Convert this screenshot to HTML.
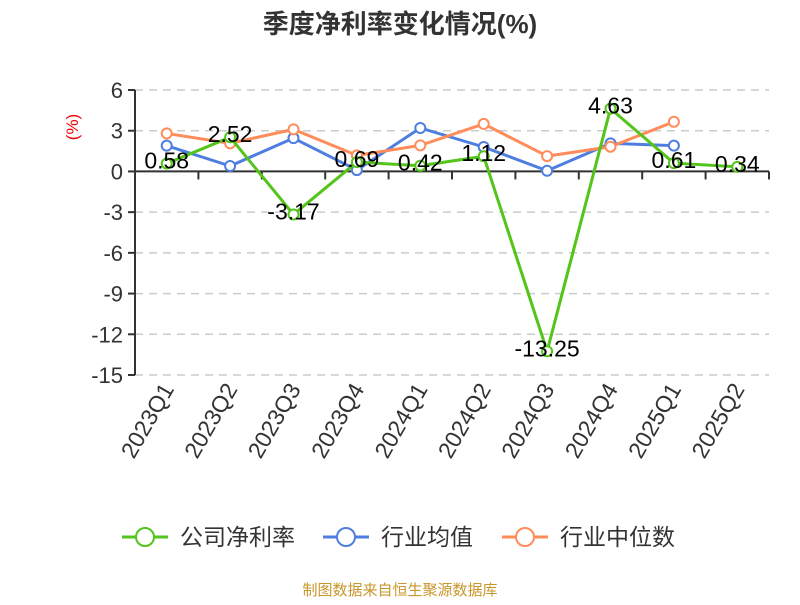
<!DOCTYPE html>
<html><head><meta charset="utf-8"><style>
body{margin:0;background:#fff;font-family:"Liberation Sans","Noto Sans CJK SC",sans-serif}
</style></head><body>
<svg id="chart" width="800" height="600" xmlns="http://www.w3.org/2000/svg" font-family="Liberation Sans, Noto Sans CJK SC, sans-serif">
<text x="400" y="33" text-anchor="middle" font-size="26" font-weight="bold" fill="#333">季度净利率变化情况(%)</text>
<text transform="translate(78,127) rotate(-90)" text-anchor="middle" font-size="17" fill="#e00">(%)</text>
<g id="grid"></g><g id="axes"></g><g id="series"></g>
<g>
<g><line x1="122" y1="537" x2="168" y2="537" stroke="#52c41a" stroke-width="3"/><circle cx="145" cy="537" r="9" fill="#fff" stroke="#52c41a" stroke-width="2"/><text x="180" y="545" font-size="23" fill="#333">公司净利率</text></g>
<g><line x1="323" y1="537" x2="369" y2="537" stroke="#4e7fe0" stroke-width="3"/><circle cx="346" cy="537" r="9" fill="#fff" stroke="#4e7fe0" stroke-width="2"/><text x="381" y="545" font-size="23" fill="#333">行业均值</text></g>
<g><line x1="502" y1="537" x2="548" y2="537" stroke="#ff8c5a" stroke-width="3"/><circle cx="525" cy="537" r="9" fill="#fff" stroke="#ff8c5a" stroke-width="2"/><text x="560" y="545" font-size="23" fill="#333">行业中位数</text></g>
</g>
<text x="400" y="595" text-anchor="middle" font-size="15" fill="#c8962a">制图数据来自恒生聚源数据库</text>
</svg>
<script>
const categories=["2023Q1","2023Q2","2023Q3","2023Q4","2024Q1","2024Q2","2024Q3","2024Q4","2025Q1","2025Q2"];
const companyValues=[0.58,2.52,-3.17,0.69,0.42,1.12,-13.25,4.63,0.61,0.34];
const industryAvg=[1.9,0.4,2.45,0.1,3.2,1.8,0.05,2.07,1.9];
const industryMedian=[2.8,2.07,3.1,1.18,1.92,3.5,1.13,1.82,3.66];
const yTicks=[6,3,0,-3,-6,-9,-12,-15];
const NS="http://www.w3.org/2000/svg";
const x0=135,x1=769,yTop=90,yBot=375,yMax=6,yMin=-15;
const band=(x1-x0)/categories.length;
const xs=i=>x0+band*(i+0.5);
const ys=v=>yTop+(yMax-v)/(yMax-yMin)*(yBot-yTop);
function mk(tag,attrs,parent,txt){const e=document.createElementNS(NS,tag);for(const k in attrs)e.setAttribute(k,attrs[k]);if(txt!==undefined)e.textContent=txt;parent.appendChild(e);return e;}
const grid=document.getElementById('grid'),axes=document.getElementById('axes'),ser=document.getElementById('series');
yTicks.forEach(t=>{
 if(t!==0){const l=mk('line',{x1:x0,x2:x1,y1:ys(t),y2:ys(t),stroke:'#ccc','stroke-dasharray':'8,6','stroke-width':1.5},grid);
 
 }
 const tk=mk('line',{x1:x0-7,x2:x0,y1:ys(t),y2:ys(t),stroke:'#333','stroke-width':2},axes);
 
 
 const tl=mk('text',{x:x0-12,y:ys(t)+8,'text-anchor':'end','font-size':22,fill:'#333'},axes,String(t));
 
 
});
const ya=mk('line',{x1:x0,x2:x0,y1:yTop,y2:yBot,stroke:'#333','stroke-width':2},axes);


const xa=mk('line',{x1:x0,x2:x1,y1:ys(0),y2:ys(0),stroke:'#333','stroke-width':2},axes);


for(let i=0;i<=categories.length;i++){const t=mk('line',{x1:x0+band*i,x2:x0+band*i,y1:ys(0),y2:ys(0)+8,stroke:'#333','stroke-width':2},axes);
 
 }
categories.forEach((c,i)=>{const t=mk('text',{transform:`translate(${xs(i)+8},${yBot+14}) rotate(-60)`,'text-anchor':'end','font-size':23,fill:'#333'},axes,c);
 
 });
function series(vals,color,name){
 const pts=vals.map((v,i)=>xs(i)+','+ys(v)).join(' ');
 const pl=mk('polyline',{points:pts,fill:'none',stroke:color,'stroke-width':3,'stroke-linejoin':'round'},ser);
 
 
 vals.forEach((v,i)=>{const c=mk('circle',{cx:xs(i),cy:ys(v),r:5,fill:'#fff',stroke:color,'stroke-width':2},ser);
  
  });
}
series(industryAvg,'#4e7fe0','industry-avg');
series(industryMedian,'#ff8c5a','industry-median');
series(companyValues,'#52c41a','company');
companyValues.forEach((v,i)=>{const t=mk('text',{x:xs(i),y:ys(v)+5,'text-anchor':'middle','font-size':23,fill:'#000'},ser,v.toFixed(2));
 
 });
</script>
</body></html>
